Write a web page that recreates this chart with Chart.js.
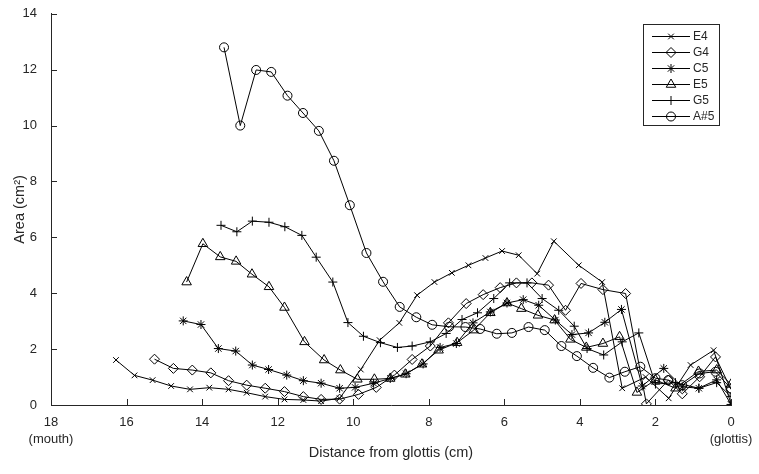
<!DOCTYPE html>
<html>
<head>
<meta charset="utf-8">
<script src="https://cdn.jsdelivr.net/npm/chart.js"></script>
<style>
  html, body { margin: 0; padding: 0; background: #fff; }
  #wrap { width: 759px; height: 474px; }
</style>
</head>
<body>
<div id="wrap"><canvas id="areaChart"></canvas></div>
<script>
// distance from glottis (cm) and area (cm^2) per note
const e4X = [16.28, 15.79, 15.31, 14.82, 14.32, 13.81, 13.30, 12.82, 12.33, 11.82, 11.32, 10.85, 10.36, 9.80, 9.30, 8.78, 8.31, 7.85, 7.39, 6.95, 6.50, 6.06, 5.62, 5.13, 4.69, 4.03, 3.41, 2.88, 2.26, 1.65, 1.07, 0.46, 0.0]
const e4Y = [1.61, 1.06, 0.89, 0.68, 0.56, 0.62, 0.56, 0.44, 0.30, 0.20, 0.18, 0.14, 0.24, 1.27, 2.32, 2.94, 3.93, 4.40, 4.73, 5.00, 5.26, 5.51, 5.36, 4.70, 5.86, 5.00, 4.40, 0.60, 1.00, 0.24, 1.43, 1.96, 0.05]

const g4X = [15.26, 14.76, 14.26, 13.77, 13.30, 12.82, 12.33, 11.82, 11.32, 10.85, 10.36, 9.86, 9.39, 8.91, 8.44, 7.96, 7.48, 7.01, 6.56, 6.11, 5.68, 5.27, 4.83, 4.38, 3.97, 3.39, 2.79, 2.24, 1.66, 1.29, 0.83, 0.41, 0.0]
const g4Y = [1.64, 1.31, 1.25, 1.15, 0.87, 0.71, 0.60, 0.48, 0.30, 0.20, 0.21, 0.38, 0.63, 1.07, 1.63, 2.11, 2.94, 3.63, 3.95, 4.20, 4.37, 4.37, 4.29, 3.39, 4.35, 4.13, 3.99, 0.04, 0.89, 0.40, 1.01, 1.72, 0.56]

const c5X = [14.50, 14.03, 13.57, 13.11, 12.67, 12.24, 11.76, 11.32, 10.85, 10.36, 9.95, 9.46, 9.02, 8.60, 8.15, 7.70, 7.27, 6.83, 6.37, 5.93, 5.50, 5.09, 4.65, 4.21, 3.77, 3.34, 2.90, 2.35, 1.78, 1.29, 0.85, 0.38, 0.0]
const c5Y = [3.01, 2.88, 2.02, 1.93, 1.43, 1.27, 1.07, 0.87, 0.78, 0.60, 0.63, 0.78, 0.95, 1.12, 1.47, 2.06, 2.20, 2.94, 3.33, 3.65, 3.77, 3.57, 3.04, 2.52, 2.58, 2.96, 3.42, 0.68, 1.31, 0.65, 0.60, 0.90, 0.02]

const e5X = [14.41, 13.98, 13.52, 13.10, 12.68, 12.23, 11.82, 11.29, 10.77, 10.34, 9.89, 9.44, 9.02, 8.62, 8.18, 7.74, 7.25, 6.81, 6.37, 5.93, 5.55, 5.11, 4.67, 4.25, 3.83, 3.39, 2.95, 2.49, 2.00, 1.47, 0.86, 0.38, 0.0]
const e5Y = [4.40, 5.77, 5.30, 5.14, 4.68, 4.23, 3.49, 2.26, 1.61, 1.25, 0.92, 0.92, 0.95, 1.10, 1.46, 1.96, 2.23, 2.68, 3.30, 3.65, 3.45, 3.21, 3.04, 2.35, 2.06, 2.20, 2.44, 0.45, 0.90, 0.60, 1.20, 1.25, 0.74]

const g5X = [13.50, 13.08, 12.67, 12.23, 11.81, 11.36, 10.98, 10.54, 10.14, 9.73, 9.28, 8.83, 8.44, 7.96, 7.54, 7.12, 6.71, 6.28, 5.86, 5.40, 5.00, 4.56, 4.15, 3.81, 3.37, 2.88, 2.44, 2.00, 1.47, 0.85, 0.38, 0.0]
const g5Y = [6.43, 6.20, 6.58, 6.54, 6.38, 6.07, 5.29, 4.40, 2.95, 2.46, 2.23, 2.06, 2.11, 2.26, 2.56, 3.06, 3.30, 3.81, 4.37, 4.37, 3.81, 3.39, 2.82, 2.02, 1.79, 2.26, 2.58, 0.75, 0.80, 0.60, 0.80, 0.30]

const a5X = [13.42, 12.99, 12.57, 12.17, 11.74, 11.33, 10.91, 10.51, 10.09, 9.65, 9.21, 8.77, 8.33, 7.91, 7.46, 7.03, 6.64, 6.20, 5.80, 5.36, 4.93, 4.49, 4.08, 3.65, 3.22, 2.81, 2.40, 2.00, 1.66, 1.29, 0.83, 0.41, 0.0]
const a5Y = [12.80, 10.00, 11.99, 11.92, 11.07, 10.45, 9.81, 8.74, 7.15, 5.44, 4.41, 3.51, 3.14, 2.87, 2.80, 2.79, 2.72, 2.55, 2.58, 2.79, 2.68, 2.11, 1.75, 1.33, 0.98, 1.19, 1.37, 0.96, 0.89, 0.71, 1.13, 1.19, 0.59]

const seriesNames = ["E4", "G4", "C5", "E5", "G5", "A#5"]
const markerStyles = ["crossRot", "rectRot", "star", "triangle", "cross", "circle"]
const markerSizes = [4, 5, 4.5, 5.5, 4.5, 4.5]

const xTickEnds = { 18: "(mouth)", 0: "(glottis)" }

const ink = "#262626"
const fontFamily = "'Liberation Sans', Arial, sans-serif"
const allX = [e4X, g4X, c5X, e5X, g5X, a5X]
const allY = [e4Y, g4Y, c5Y, e5Y, g5Y, a5Y]

const datasets = seriesNames.map((name, i) => ({
    label: name,
    data: allX[i].map((x, j) => ({ x: x, y: allY[i][j] })),
    showLine: true,
    borderColor: "#000",
    borderWidth: 1,
    backgroundColor: "rgba(0,0,0,0)",
    pointStyle: markerStyles[i],
    pointRadius: markerSizes[i],
    pointBorderColor: "#000",
    pointBackgroundColor: "rgba(0,0,0,0)",
    pointBorderWidth: 1,
    tension: 0
}))

// tick marks pointing into the plot, like the original figure
const inwardTicks = {
    id: "inwardTicks",
    afterDraw(chart) {
        const { ctx, chartArea, scales } = chart
        ctx.save()
        ctx.strokeStyle = ink
        ctx.lineWidth = 1
        ctx.beginPath()
        scales.x.ticks.forEach(t => {
            const px = Math.round(scales.x.getPixelForValue(t.value)) + 0.5
            ctx.moveTo(px, chartArea.bottom)
            ctx.lineTo(px, chartArea.bottom - 6)
        })
        scales.y.ticks.forEach(t => {
            const py = Math.round(scales.y.getPixelForValue(t.value)) + 0.5
            ctx.moveTo(chartArea.left, py)
            ctx.lineTo(chartArea.left + 6, py)
        })
        ctx.stroke()
        ctx.restore()
    }
}

// boxed legend at the top right with a line through each marker
const boxLegend = {
    id: "boxLegend",
    afterDraw(chart) {
        const { ctx } = chart
        const left = 643, top = 24, w = 76, h = 101
        ctx.save()
        ctx.fillStyle = "#fff"
        ctx.fillRect(left, top, w, h)
        ctx.strokeStyle = ink
        ctx.lineWidth = 1
        ctx.strokeRect(left + 0.5, top + 0.5, w, h)
        ctx.font = "12px " + fontFamily
        ctx.textBaseline = "middle"
        seriesNames.forEach((name, i) => {
            const y = top + 12 + i * 16
            ctx.strokeStyle = "#000"
            ctx.beginPath()
            ctx.moveTo(left + 9, y + 0.5)
            ctx.lineTo(left + 47, y + 0.5)
            ctx.stroke()
            if (Chart.helpers && Chart.helpers.drawPoint) {
                ctx.fillStyle = "rgba(0,0,0,0)"
                Chart.helpers.drawPoint(ctx, {
                    pointStyle: markerStyles[i],
                    radius: markerSizes[i],
                    rotation: 0,
                    borderWidth: 1
                }, left + 28, y + 0.5)
            }
            ctx.fillStyle = ink
            ctx.fillText(name, left + 50, y + 1)
        })
        ctx.restore()
    }
}

const ctx = document.getElementById("areaChart")

new Chart(ctx, {
    type: "scatter",
    data: { datasets: datasets },
    options: {
        responsive: true,
        maintainAspectRatio: false,
        animation: false,
        layout: { padding: { top: 12, right: 28, left: 0, bottom: 0 } },
        plugins: {
            legend: { display: false },
            tooltip: { enabled: false }
        },
        scales: {
            x: {
                type: "linear",
                reverse: true,
                min: 0,
                max: 18,
                afterFit: s => { s.height = 69 },
                grid: { display: false },
                border: { display: true, color: ink, width: 1 },
                ticks: {
                    stepSize: 2,
                    padding: 1,
                    color: ink,
                    maxRotation: 0,
                    font: { family: fontFamily, size: 13, lineHeight: 1.3 },
                    callback: v => xTickEnds[v] ? [String(v), xTickEnds[v]] : String(v)
                },
                title: {
                    display: true,
                    text: "Distance from glottis (cm)",
                    color: ink,
                    font: { family: fontFamily, size: 14.5 },
                    padding: { top: 0, bottom: 12 }
                }
            },
            y: {
                type: "linear",
                min: 0,
                max: 14,
                afterFit: s => { s.width = 51 },
                grid: { display: false },
                border: { display: true, color: ink, width: 1 },
                ticks: {
                    stepSize: 2,
                    padding: 6,
                    color: ink,
                    font: { family: fontFamily, size: 13 }
                },
                title: {
                    display: true,
                    text: "Area (cm²)",
                    color: ink,
                    font: { family: fontFamily, size: 14.5 },
                    padding: { top: 11, bottom: 0 }
                }
            }
        }
    },
    plugins: [inwardTicks, boxLegend]
})
</script>
</body>
</html>
